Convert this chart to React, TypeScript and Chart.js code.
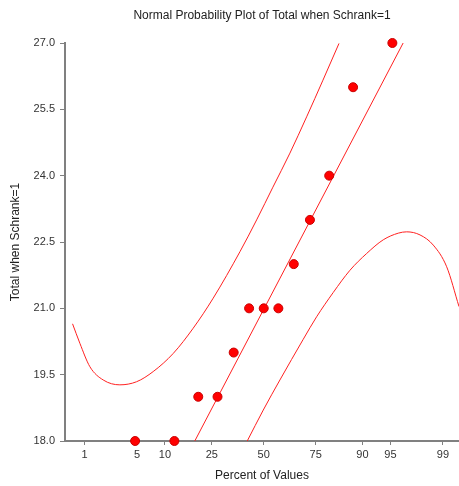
import React, { useEffect, useRef } from "react";
import { Chart, registerables } from "chart.js";

Chart.register(...registerables);

const valuesY = [18, 18, 19, 19, 20, 21, 21, 21, 22, 23, 24, 26, 27];
const valuesZ = [-1.67, -1.16, -0.85, -0.6, -0.39, -0.19, 0, 0.19, 0.39, 0.6, 0.85, 1.16, 1.67];

// Fitted reference line (end points)
const fitZ = [-0.895, 1.81];
const fitY = [18, 27];

// Upper confidence band
const upperZ = [-2.482, -2.387, -2.257, -2.084, -1.868, -1.651, -1.435, -1.175, -0.916, -0.656, -0.309, -0.092, 0.119, 0.34, 0.557, 0.769, 0.977];
const upperY = [20.65, 20.21, 19.68, 19.38, 19.27, 19.34, 19.57, 19.98, 20.55, 21.23, 22.28, 23.0, 23.74, 24.51, 25.33, 26.16, 26.99];

// Lower confidence band
const lowerZ = [-0.214, -0.006, 0.21, 0.513, 0.687, 0.903, 1.119, 1.336, 1.552, 1.747, 1.856, 2.029, 2.201, 2.375, 2.535];
const lowerY = [18.0, 18.7, 19.38, 20.3, 20.81, 21.36, 21.86, 22.24, 22.55, 22.7, 22.73, 22.66, 22.43, 21.94, 21.04];

// X axis ticks: percent labels at their normal-score positions
const tickPercents = ["1", "5", "10", "25", "50", "75", "90", "95", "99"];
const tickZ = [-2.326, -1.645, -1.282, -0.674, 0, 0.674, 1.282, 1.645, 2.326];

const yTicks = [18.0, 19.5, 21.0, 22.5, 24.0, 25.5, 27.0];

const pts = (xs: number[], ys: number[]) => xs.map((x, i) => ({ x, y: ys[i] }));

export default function App() {
  const ref = useRef<HTMLCanvasElement | null>(null);
  useEffect(() => {
    if (!ref.current) return;
    const font = "'Liberation Sans', Arial, sans-serif";
    const lineColor = "#ff2020";
    const chart = new Chart(ref.current, {
      type: "scatter",
      data: {
        datasets: [
          {
            label: "Data",
            data: pts(valuesZ, valuesY),
            backgroundColor: "#ff0000",
            borderColor: "#c80000",
            borderWidth: 1,
            pointRadius: 4.5,
            order: 0,
            clip: false,
          },
          {
            label: "Fit",
            data: pts(fitZ, fitY),
            showLine: true,
            borderColor: lineColor,
            borderWidth: 1,
            pointRadius: 0,
            order: 1,
            clip: 0,
          },
          {
            label: "Upper",
            data: pts(upperZ, upperY),
            showLine: true,
            borderColor: lineColor,
            borderWidth: 1,
            pointRadius: 0,
            cubicInterpolationMode: "monotone",
            order: 2,
            clip: 0,
          },
          {
            label: "Lower",
            data: pts(lowerZ, lowerY),
            showLine: true,
            borderColor: lineColor,
            borderWidth: 1,
            pointRadius: 0,
            cubicInterpolationMode: "monotone",
            order: 3,
            clip: 0,
          },
        ],
      },
      options: {
        animation: false,
        responsive: false,
        maintainAspectRatio: false,
        layout: { padding: 0, autoPadding: false },
        plugins: {
          legend: { display: false },
          tooltip: { enabled: false },
          title: {
            display: true,
            text: "Normal Probability Plot of Total when Schrank=1",
            color: "#222",
            font: { family: font, size: 12, weight: "normal" },
            padding: { top: 8, bottom: 20.6 },
            fullSize: false,
          },
        },
        scales: {
          x: {
            type: "linear",
            min: -2.58,
            max: 2.535,
            afterFit: (s: any) => {
              s.height = 45;
              s.paddingLeft = 0;
              s.paddingRight = 0;
            },
            afterBuildTicks: (s: any) => {
              s.ticks = tickZ.map((v) => ({ value: v }));
            },
            ticks: {
              callback: (v: any) => {
                const i = tickZ.indexOf(Number(v));
                return i >= 0 ? tickPercents[i] : "";
              },
              color: "#333",
              font: { family: font, size: 11 },
              padding: 3,
              autoSkip: false,
              maxRotation: 0,
            },
            grid: { display: true, drawOnChartArea: false, drawTicks: true, tickLength: 4, color: "#808080", lineWidth: 1 },
            border: { display: true, color: "#808080", width: 2 },
            title: {
              display: true,
              text: "Percent of Values",
              color: "#222",
              font: { family: font, size: 12 },
              padding: { top: 0, bottom: 3 },
            },
          },
          y: {
            type: "linear",
            min: 18,
            max: 27,
            afterFit: (s: any) => {
              s.width = 65;
            },
            afterBuildTicks: (s: any) => {
              s.ticks = yTicks.map((v) => ({ value: v }));
            },
            ticks: {
              callback: (v: any) => Number(v).toFixed(1),
              color: "#333",
              font: { family: font, size: 11 },
              padding: 5,
            },
            grid: { display: true, drawOnChartArea: false, drawTicks: true, tickLength: 5, color: "#808080", lineWidth: 1 },
            border: { display: true, color: "#808080", width: 2 },
            title: {
              display: true,
              text: "Total when Schrank=1",
              color: "#222",
              font: { family: font, size: 12 },
              padding: { top: 8, bottom: 0 },
            },
          },
        },
      },
    });
    return () => chart.destroy();
  }, []);
  return (
    <div style={{ position: "fixed", left: 0, top: 0, width: 459, height: 486, background: "#fff" }}>
      <canvas ref={ref} width={459} height={486} style={{ width: 459, height: 486, display: "block" }} />
    </div>
  );
}
